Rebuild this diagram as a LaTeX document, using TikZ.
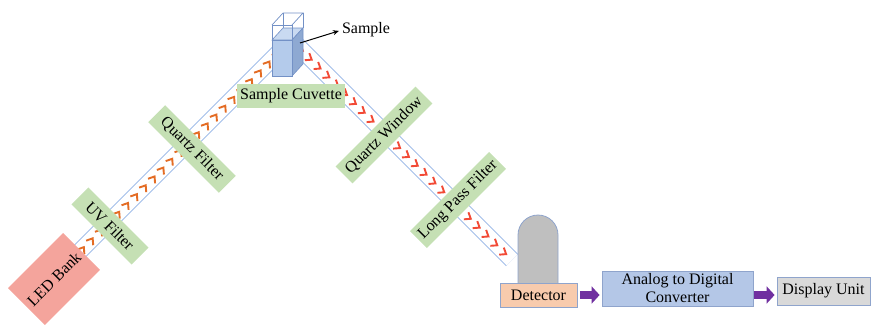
\documentclass[tikz,border=0pt]{standalone}
\usepackage{fontspec}
\setmainfont{Liberation Serif}
\usetikzlibrary{arrows.meta,decorations.markings}

\definecolor{beamblue}{HTML}{A5C0EA}
\definecolor{chevin}{HTML}{E46C24}
\definecolor{chevout}{HTML}{F24A36}
\definecolor{labelgreen}{HTML}{C5E0B4}
\definecolor{ledpink}{HTML}{F4A49C}
\definecolor{cuvfront}{HTML}{B4CBEB}
\definecolor{cuvside}{HTML}{8EA9D2}
\definecolor{cuvtop}{HTML}{C9DAF1}
\definecolor{cuvedge}{HTML}{7391C6}
\definecolor{domegray}{HTML}{BFBFBF}
\definecolor{frameblue}{HTML}{8FA4CC}
\definecolor{detpeach}{HTML}{F8CBAD}
\definecolor{adcblue}{HTML}{B4C7E7}
\definecolor{dispgray}{HTML}{D9D9D9}
\definecolor{arrowpurple}{HTML}{7030A0}

\newcommand\diagfont{\fontsize{16}{18}\selectfont}

\tikzset{
  beam/.style={draw=beamblue, line width=1pt, double=white, double distance=15pt},
  chevrons/.style={decorate, decoration={markings,
      mark=between positions 0 and 1 step 12.5pt with
      {\draw[line width=1.9pt, rotate=12, #1] (-5.5pt,4.2pt) -- (0pt,0pt) -- (-5.5pt,-4.2pt);}}},
  filterlbl/.style={fill=labelgreen, minimum height=24pt, inner sep=0pt},
  ledbox/.style={fill=ledpink, inner sep=0pt},
  blockbox/.style={draw=frameblue, line width=0.8pt, inner sep=0pt, align=center},
  flowarrow/.style={arrowpurple, line width=8pt, -{Triangle[length=8pt,width=17pt]}},
  cuvwire/.style={draw=cuvedge, line width=0.7pt},
}

\begin{document}
\begin{tikzpicture}[x=1pt, y=-1pt, every node/.style={font=\diagfont}]
\useasboundingbox (0,0) rectangle (872,324);
\clip (0,0) rectangle (872,324);

% beam end points
\coordinate (bin1) at (75,256);
\coordinate (bin2) at (288,43);
\coordinate (bout1) at (294,42);
\coordinate (bout2) at (512,260);

% light path walls
\draw[beam] (bin1) -- (bin2);
\draw[beam] (bout1) -- (bout2);

% photons travelling along the path
\path[chevrons=chevin] (bin1) -- (bin2);
\path[chevrons=chevout] (bout1) -- (bout2);

% sample cuvette
\fill[cuvtop, draw=cuvedge, line width=0.6pt] (272,40) -- (283,28) -- (303,28) -- (292,40) -- cycle;
\fill[cuvside, draw=cuvedge, line width=0.6pt] (292,40) -- (303,28) -- (303,64) -- (292,76) -- cycle;
\fill[cuvfront, draw=cuvedge, line width=0.6pt] (272,40) rectangle (292,76);
\draw[cuvwire] (272,40) -- (272,25) -- (292,25) -- (292,40);
\draw[cuvwire] (272,25) -- (283,13) -- (303,13) -- (292,25);
\draw[cuvwire] (303,13) -- (303,28);
\draw[cuvwire] (283,13) -- (283,28);
\coordinate (cuv) at (300,43);

% sample callout
\node[inner sep=0pt] (samplelbl) at (366,30) {Sample};
\draw[line width=1pt, -{Stealth[length=6pt,width=5pt]}, shorten >=3pt] (cuv) -- (samplelbl.west);

% light source
\node[ledbox, rotate=45, minimum width=78pt, minimum height=52pt] (led) at (54,279) {LED Bank};

% optical elements
\node[filterlbl, rotate=-45, minimum width=85pt] (uvf) at (110,226) {UV Filter};
\node[filterlbl, rotate=-45, minimum width=100pt] (qf) at (192,149) {Quartz Filter};
\node[filterlbl, minimum width=108pt] (cuvlbl) at (291,96) {Sample Cuvette};
\node[filterlbl, rotate=45, minimum width=113pt] (qw) at (384,135) {Quartz Window};
\node[filterlbl, rotate=45, minimum width=112pt] (lpf) at (458,200) {Long Pass Filter};

% detector housing
\draw[fill=domegray, draw=frameblue, line width=0.8pt, rounded corners=20pt]
  (518,290) -- (518,215) -- (558,215) -- (558,290);

% signal chain
\node[blockbox, fill=detpeach, minimum width=77pt, minimum height=24pt] (det) at (538.5,295) {Detector};
\node[blockbox, fill=adcblue, minimum width=151pt, minimum height=35pt] (adc) at (677.5,288.5) {Analog to Digital\\Converter};
\node[blockbox, fill=dispgray, minimum width=93pt, minimum height=28pt] (disp) at (823.5,291) {Display Unit};

\draw[flowarrow, shorten <=3pt, shorten >=2pt] (det.east) -- (det.east -| adc.west);
\draw[flowarrow, shorten <=1pt, shorten >=2pt] (adc.east |- det.east) -- (disp.west |- det.east);
\end{tikzpicture}
\end{document}
